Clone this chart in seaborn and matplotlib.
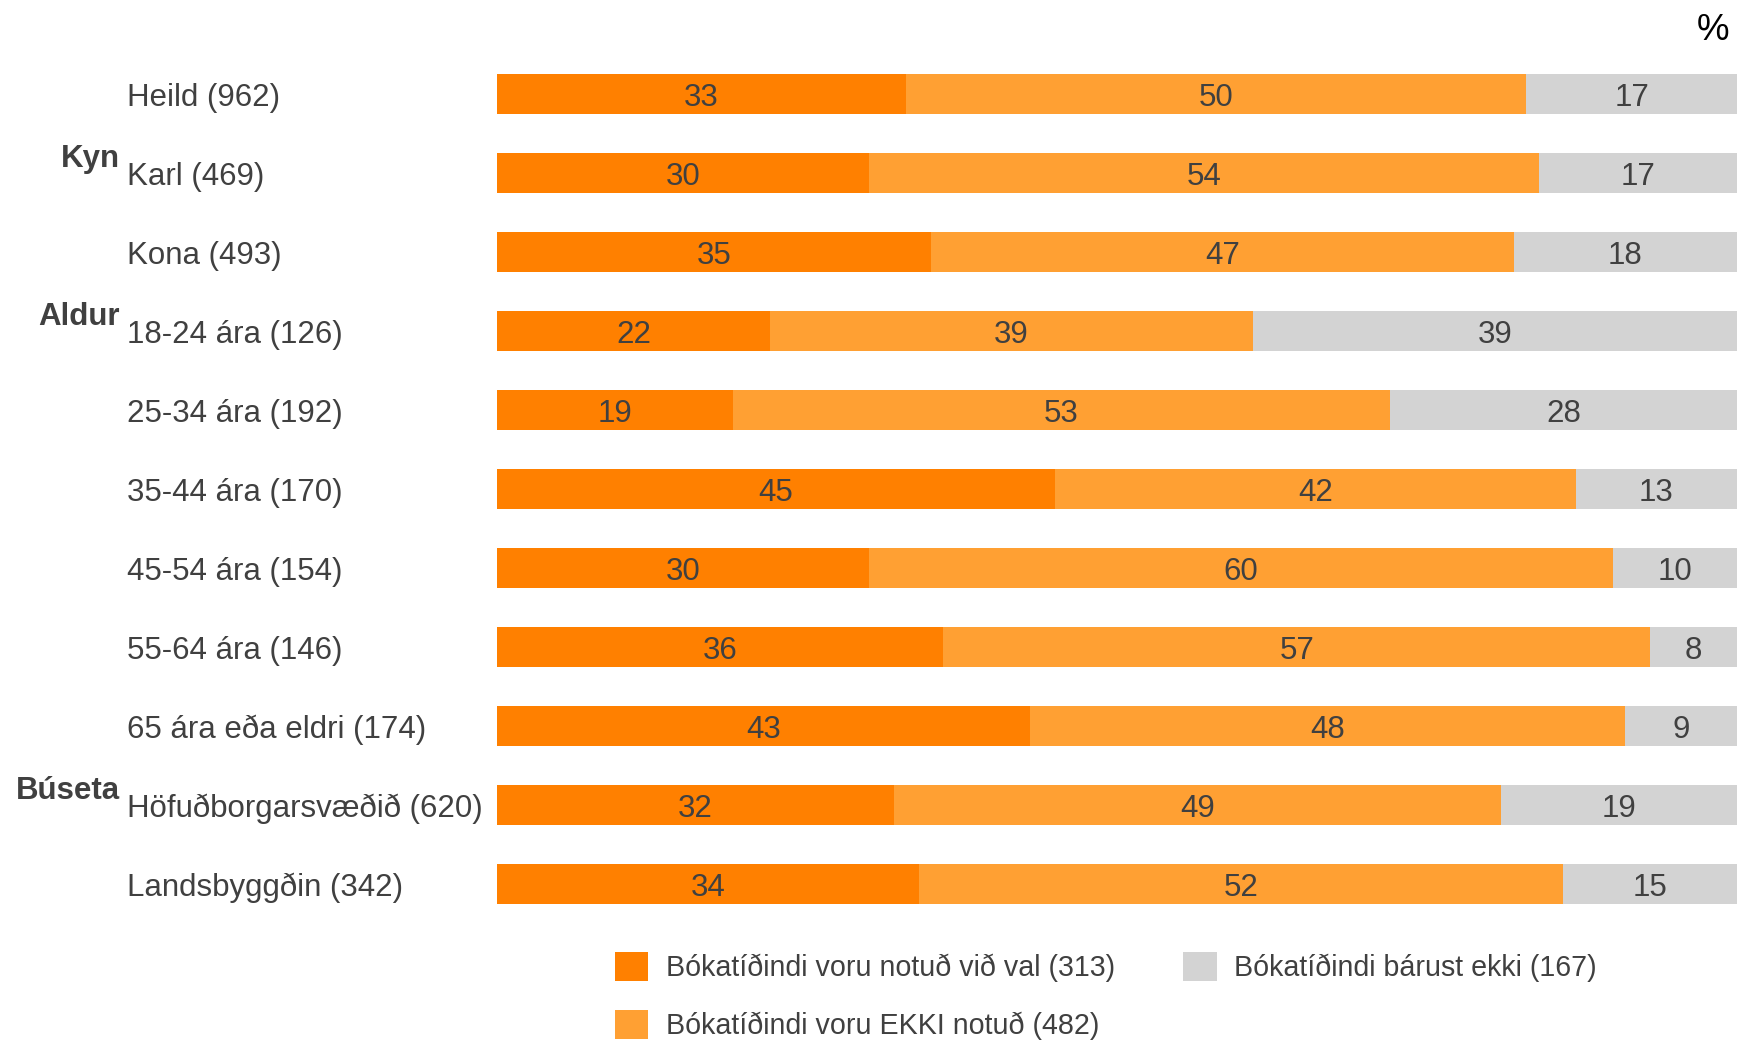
import numpy as np
import pandas as pd
import matplotlib
matplotlib.use("Agg")
import matplotlib.pyplot as plt
import matplotlib.transforms as mtransforms
from matplotlib.patches import Patch
import seaborn as sns

# ---------- data ----------
categories = [
    "Heild (962)", "Karl (469)", "Kona (493)",
    "18-24 ára (126)", "25-34 ára (192)", "35-44 ára (170)",
    "45-54 ára (154)", "55-64 ára (146)", "65 ára eða eldri (174)",
    "Höfuðborgarsvæðið (620)", "Landsbyggðin (342)",
]
used = [33, 30, 35, 22, 19, 45, 30, 36, 43, 32, 34]
not_used = [50, 54, 47, 39, 53, 42, 60, 57, 48, 49, 52]
not_received = [17, 17, 18, 39, 28, 13, 10, 8, 9, 19, 15]

groups = {"Kyn": 1, "Aldur": 3, "Búseta": 9}  # group name -> first row index

legend_labels = [
    "Bókatíðindi voru notuð við val (313)",
    "Bókatíðindi voru EKKI notuð (482)",
    "Bókatíðindi bárust ekki (167)",
]

DARK = "#FF8000"
LIGHT = "#FFA033"
GRAY = "#D3D3D3"
TXT = "#404040"

df = pd.DataFrame({
    "cat": categories,
    "used": used,
    "not_used": not_used,
    "not_received": not_received,
})
df["cum1"] = df["used"]
df["cum2"] = df["used"] + df["not_used"]
df["total"] = 100

# ---------- plot ----------
sns.set_theme(style="white")
plt.rcParams["font.family"] = ["Liberation Sans", "DejaVu Sans"]
FS = 22.5
DY = 0.045  # nudge text so caps sit centred on the bars

fig = plt.figure(figsize=(17.37, 10.40), dpi=100)
ax = fig.add_axes([497 / 1737, 1 - 923.5 / 1040, 1 - 497 / 1737, (923.5 - 54.5) / 1040])

# stacked look: draw cumulative bars from back to front
for col, c in (("total", GRAY), ("cum2", LIGHT), ("cum1", DARK)):
    sns.barplot(data=df, x=col, y="cat", color=c, width=0.5, ax=ax,
                saturation=1, errorbar=None, orient="h", linewidth=0)

ax.set_xlim(0, 100)
ax.set_ylim(len(categories) - 0.5, -0.5)
ax.set_xlabel("")
ax.set_ylabel("")
ax.set_xticks([])
ax.set_yticks([])
sns.despine(ax=ax, left=True, bottom=True)

# value labels in the middle of each segment
for i, row in df.iterrows():
    ax.text(row["used"] / 2, i + DY, f"{row['used']}", ha="center", va="center",
            fontsize=FS, color=TXT)
    ax.text(row["used"] + row["not_used"] / 2, i + DY, f"{row['not_used']}",
            ha="center", va="center", fontsize=FS, color=TXT)
    ax.text((row["cum2"] + 100) / 2, i + DY, f"{row['not_received']}",
            ha="center", va="center", fontsize=FS, color=TXT)

# category labels and group headers on the left
trans = mtransforms.blended_transform_factory(fig.transFigure, ax.transData)
for i, cat in enumerate(categories):
    ax.text(127 / 1737, i + DY, cat, ha="left", va="center", fontsize=FS,
            color=TXT, transform=trans, clip_on=False)
for name, idx in groups.items():
    ax.text(120 / 1737, idx - 0.22 + DY, name, ha="right", va="center", fontsize=FS,
            fontweight="bold", color=TXT, transform=trans, clip_on=False)

fig.text(1729 / 1737, 1 - 31 / 1040, "%", ha="right", va="center",
         fontsize=FS + 4, color="black")

handles = [Patch(facecolor=c, edgecolor="none") for c in (DARK, LIGHT, GRAY)]
fig.legend(handles, legend_labels, ncol=2, loc="upper left",
           bbox_to_anchor=(615 / 1737, 1 - 952 / 1040), frameon=False,
           fontsize=20.6, handlelength=1.17, handleheight=1.2,
           handletextpad=0.6, columnspacing=2.4, labelspacing=0.95,
           borderpad=0, borderaxespad=0, labelcolor=TXT)

fig.savefig("out.png", dpi=100)
